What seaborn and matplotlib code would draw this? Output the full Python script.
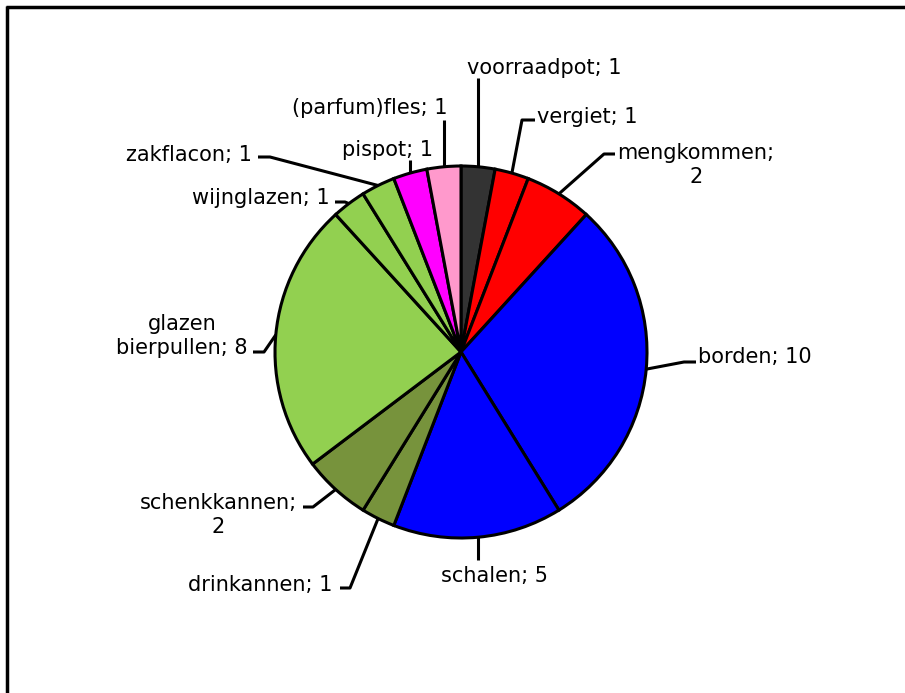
import numpy as np
import matplotlib
matplotlib.use("Agg")
import matplotlib.pyplot as plt
import seaborn as sns

# gegevens
labels = ['voorraadpot', 'vergiet', 'mengkommen', 'borden', 'schalen', 'drinkannen',
          'schenkkannen', 'glazen bierpullen', 'wijnglazen', 'zakflacon', 'pispot', '(parfum)fles']
values = [1, 1, 2, 10, 5, 1, 2, 8, 1, 1, 1, 1]
label_texts = ['voorraadpot; 1', 'vergiet; 1', 'mengkommen;\n2', 'borden; 10', 'schalen; 5',
               'drinkannen; 1', 'schenkkannen;\n2', 'glazen\nbierpullen; 8', 'wijnglazen; 1',
               'zakflacon; 1', 'pispot; 1', '(parfum)fles; 1']
colors = ['#333333', '#FF0000', '#FF0000', '#0000FF', '#0000FF', '#77933C',
          '#77933C', '#92D050', '#92D050', '#92D050', '#FF00FF', '#FF99CC']

sns.set_style("white")
plt.rcParams['font.family'] = ['DejaVu Sans']

W, H = 905, 693
fig = plt.figure(figsize=(W / 100, H / 100), dpi=100)
ax = fig.add_axes([0, 0, 1, 1])

cx, cy, r = 461, H - 352, 186

wedges, _ = ax.pie(values, colors=colors, startangle=90, counterclock=False,
                   center=(cx, cy), radius=r, frame=True,
                   wedgeprops=dict(edgecolor='black', linewidth=2.2))
ax.set_xlim(0, W)
ax.set_ylim(0, H)
ax.set_aspect('equal')
ax.axis('off')

# label plaatsing (pixels vanaf boven): tekst x, y, ha, knik, eind van lijn
layout = [
    (467, 68, 'left', None, (479, 78)),
    (537, 117, 'left', (522, 120), (535, 120)),
    (696, 165, 'center', (604, 154), (615, 154)),
    (698, 357, 'left', (684, 362), (696, 362)),
    (494, 576, 'center', None, (479, 560)),
    (332, 585, 'right', (350, 588), (340, 588)),
    (218, 515, 'center', (313, 507), (303, 507)),
    (182, 336, 'center', (264, 352), (253, 352)),
    (330, 198, 'right', (345, 202), (335, 202)),
    (252, 155, 'right', (270, 157), (258, 157)),
    (433, 150, 'right', None, (410, 160)),
    (447, 108, 'right', None, (444, 120)),
]

for w, txt, (tx, ty, ha, knee, end) in zip(wedges, label_texts, layout):
    ang = np.deg2rad((w.theta1 + w.theta2) / 2)
    px, py = cx + r * np.cos(ang), cy + r * np.sin(ang)
    xs, ys = [px], [py]
    if knee is not None:
        xs.append(knee[0]); ys.append(H - knee[1])
        xs.append(end[0]); ys.append(H - end[1])
    else:
        xs.append(px); ys.append(H - end[1])
    ax.plot(xs, ys, color='black', linewidth=2.2, solid_capstyle='butt', zorder=1)
    ax.text(tx, H - ty, txt, ha=ha, va='center', fontsize=15,
            multialignment='center', color='black', linespacing=1.3)

# rand boven en links
ax.plot([6, W], [H - 7, H - 7], color='black', linewidth=2.5, solid_capstyle='butt')
ax.plot([7, 7], [H - 6, 0], color='black', linewidth=2.5, solid_capstyle='butt')

fig.savefig('out.png', dpi=100)
